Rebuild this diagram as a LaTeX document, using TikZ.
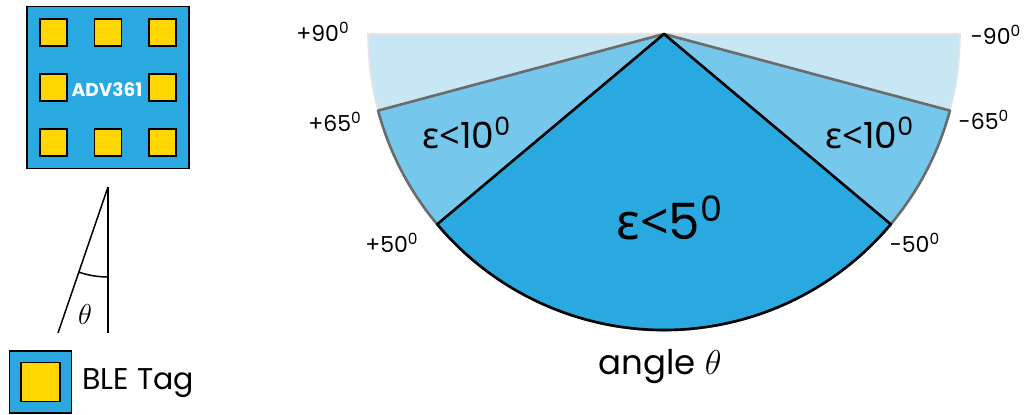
\documentclass[tikz,border=0pt]{standalone}
\usepackage{fontspec}
\setmainfont{Poppins}
\newfontfamily\grkfont{Noto Sans}
\usetikzlibrary{calc}

\definecolor{chipblue}{HTML}{29A9E0}
\definecolor{midblue}{HTML}{75C7EC}
\definecolor{paleblue}{HTML}{C8E7F5}
\definecolor{padgold}{HTML}{FFD700}
\definecolor{edgegray}{HTML}{6B6B6B}

\newcommand{\degr}[1]{#1\textsuperscript{0}}
\newcommand{\epsless}{{\grkfont ε<}}

\begin{document}
\begin{tikzpicture}[x=0.5pt, y=-0.5pt,
  chip/.style={rectangle, draw, line width=0.8pt, fill=chipblue,
               minimum size=81pt, inner sep=0pt},
  pad/.style={rectangle, draw, line width=0.8pt, fill=padgold,
              minimum size=13.5pt, inner sep=0pt},
  deglabel/.style={font=\fontsize{11}{13}\selectfont, inner sep=0pt},
  zonelabel/.style={font=\fontsize{18}{20}\selectfont, inner sep=0pt},
  sector/.style={line width=1.3pt, line join=round}
]
\useasboundingbox (0,0) rectangle (1030,415);

% ADV361 chip
\node[chip] at (108,87.5) (adv) {};
\foreach \dx/\dy [count=\i] in {-1/-1,0/-1,1/-1,-1/0,1/0,-1/1,0/1,1/1}
  \node[pad] at ($(adv)+(54.5*\dx,55*\dy)$) (pad\i) {};
\node[font=\fontsize{9.3}{11}\selectfont\bfseries, text=white, inner sep=0pt]
  at (107,90) (advlabel) {ADV361};

% Tilt angle
\coordinate (tilttop) at (108,187);
\coordinate (tiltfoot) at (58,333);
\coordinate (plumbfoot) at (108,333);
\draw[line width=0.75pt] (tilttop) -- (tiltfoot);
\draw[line width=0.75pt] (tilttop) -- (plumbfoot);
\draw[line width=0.75pt] ($(tilttop)+(108.9:90)$) arc[start angle=108.9, end angle=90, radius=90];
\node[font=\fontsize{15}{17}\selectfont, inner sep=0pt] at (85,315) (tilttheta) {$\theta$};

% Legend
\node[chip, minimum size=31pt] at (40.5,382) (tagbox) {};
\node[pad, minimum size=19.5pt] at (tagbox) (tagpad) {};
\node[anchor=west, font=\fontsize{15}{17}\selectfont, inner sep=0pt]
  at (82,383) (taglabel) {BLE Tag};

% Accuracy zones
\coordinate (apex) at (664,34);
\filldraw[fill=paleblue, draw=gray!20, line width=0.8pt]
  (apex) -- ++(180:296) arc[start angle=180, end angle=0, radius=296] -- cycle;
\filldraw[sector, fill=midblue, draw=edgegray]
  (apex) -- ++(165:296) arc[start angle=165, end angle=15, radius=296] -- cycle;
\filldraw[sector, fill=chipblue, draw=black]
  (apex) -- ++(140:296) arc[start angle=140, end angle=40, radius=296] -- cycle;

% Zone labels
\node[zonelabel] at (467,133) (zoneleft)  {\epsless\degr{10}};
\node[zonelabel] at (870,133) (zoneright) {\epsless\degr{10}};
\node[font=\fontsize{25}{28}\selectfont, inner sep=0pt] at (670,218) (zonemid) {\epsless\degr{5}};
\node[font=\fontsize{17}{20}\selectfont, inner sep=0pt] at (660,367) (axislabel) {angle $\theta$};

% Angle marks
\node[deglabel] at (323,32)  (p90) {+\degr{90}};
\node[deglabel] at (335,122) (p65) {+\degr{65}};
\node[deglabel] at (392,243) (p50) {+\degr{50}};
\node[deglabel] at (996,35)  (m90) {-\degr{90}};
\node[deglabel] at (984,120) (m65) {-\degr{65}};
\node[deglabel] at (915,243) (m50) {-\degr{50}};
\end{tikzpicture}
\end{document}
